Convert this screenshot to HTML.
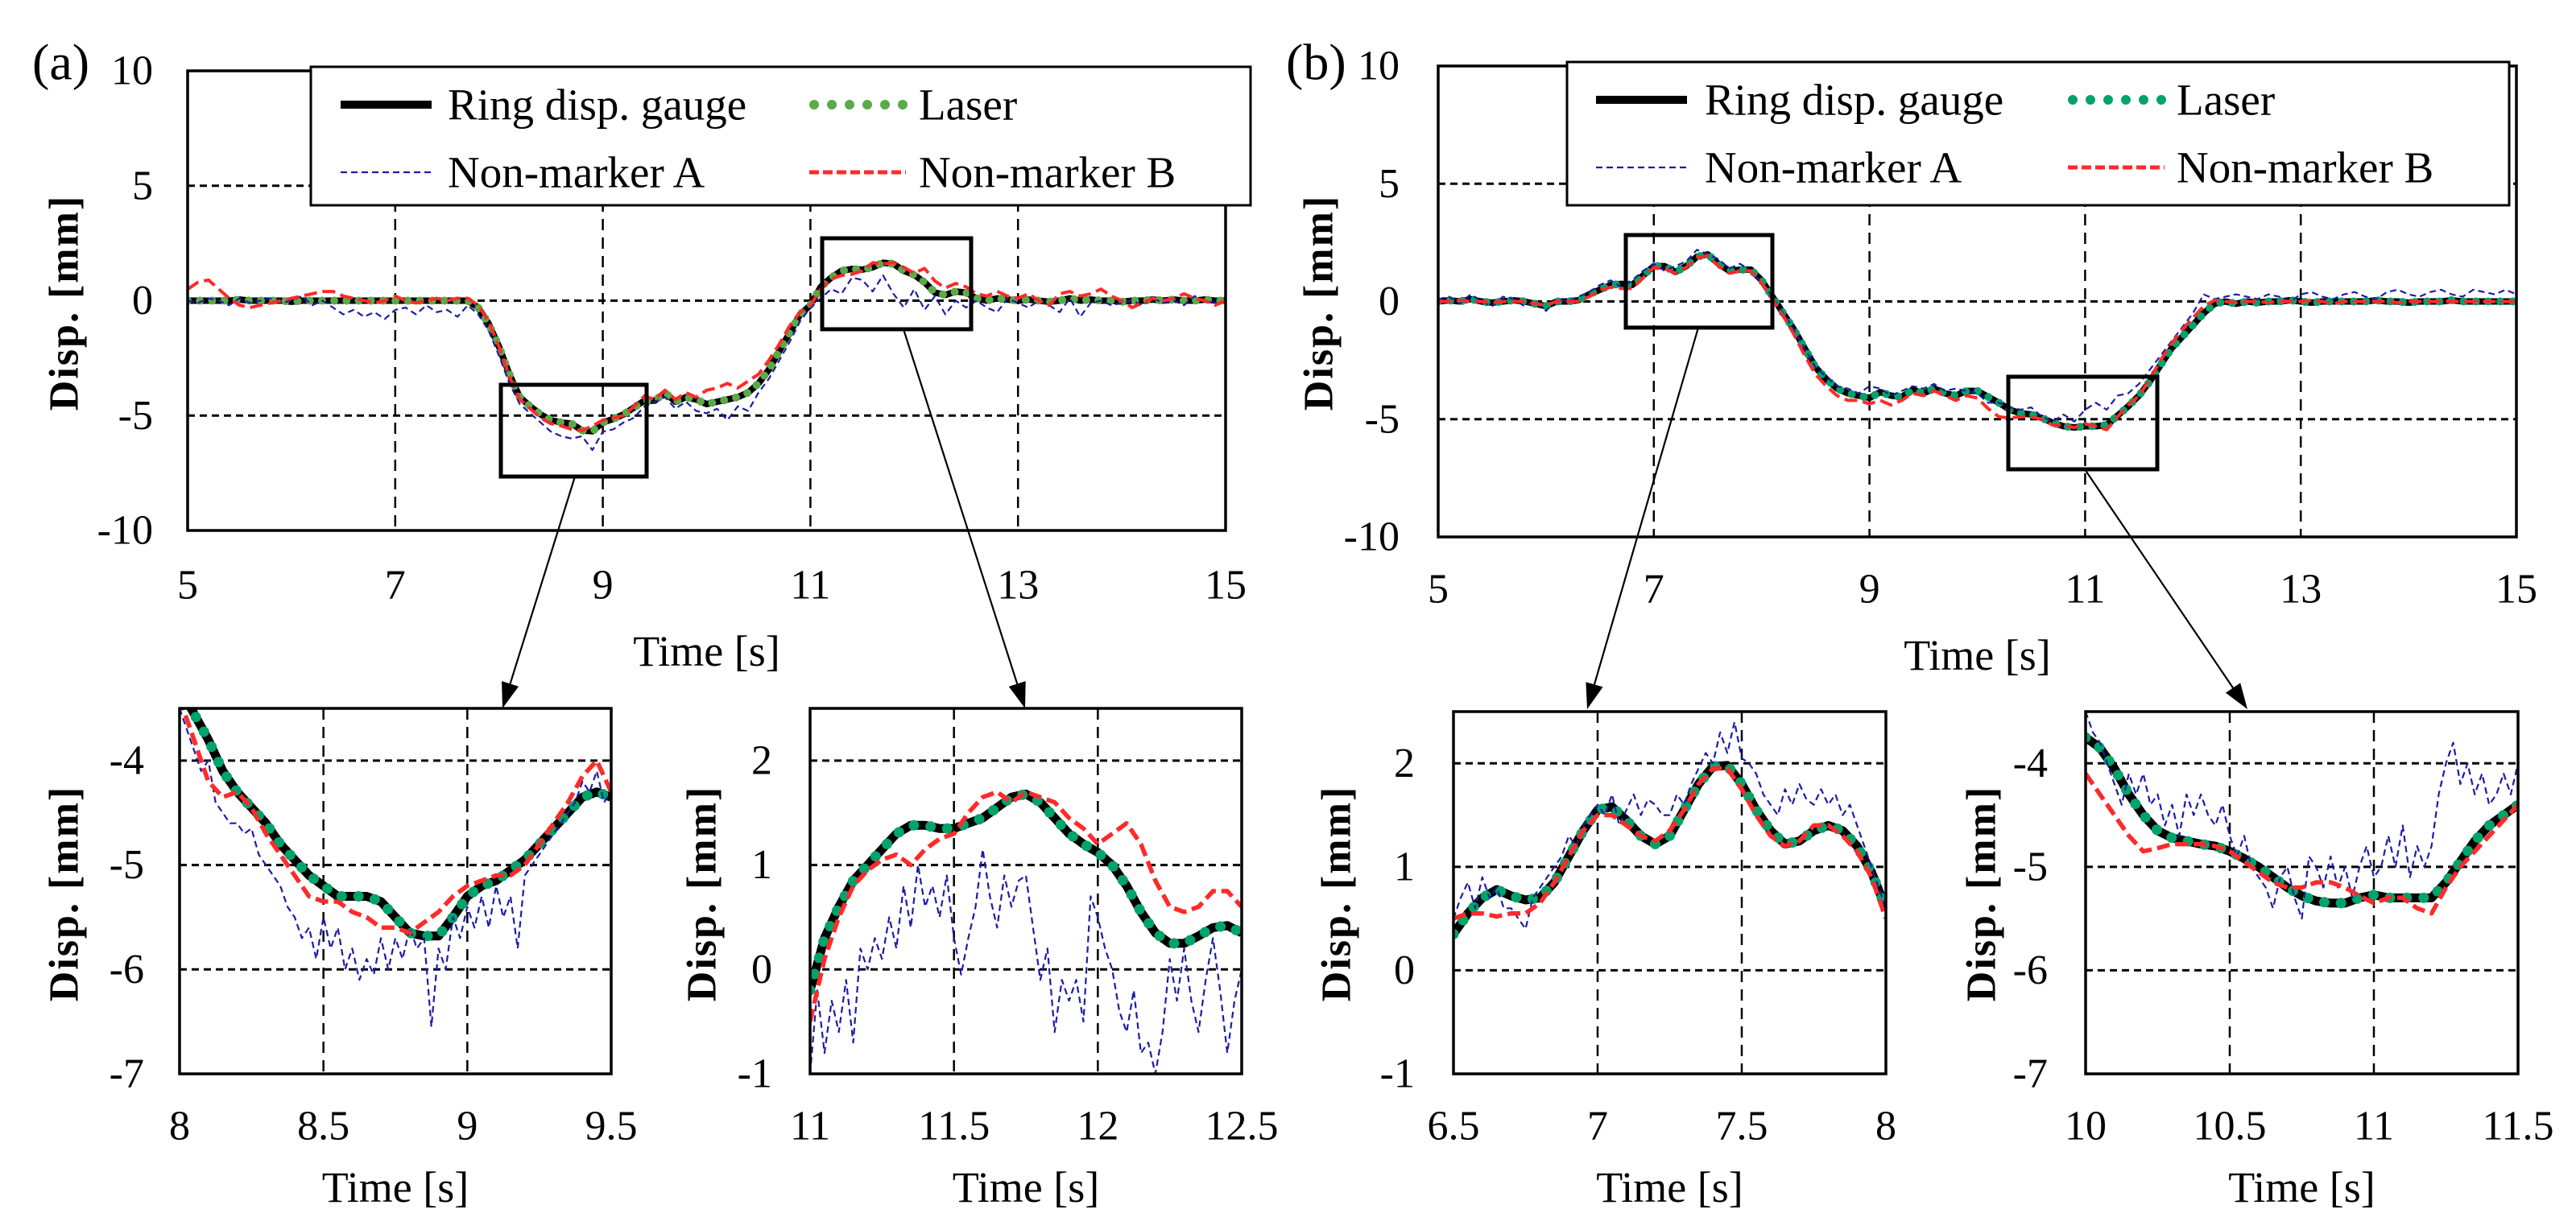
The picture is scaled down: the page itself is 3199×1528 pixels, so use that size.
<!DOCTYPE html>
<html><head><meta charset="utf-8"><style>
html,body{margin:0;padding:0;background:#fff}
svg{display:block}
svg text{font-family:"Liberation Serif","Times New Roman",serif;fill:#000}
</style></head><body>
<svg id="fig" width="3199" height="1528" viewBox="0 0 3199 1528" xmlns="http://www.w3.org/2000/svg" font-family="Liberation Serif, serif"></svg>
<script>
// ---------- DATA ----------
const aMainRing=[0,0,0,0,0,0.05,0,0,0,0,-0.05,0,0,0,0,0,0,0,0,0,0,0,0,0,0,0,0,
0,-0.3,-1.0,-2.0,-3.2,-4.2,-4.6,-4.95,-5.2,-5.3,-5.35,-5.65,-5.68,-5.3,-5.15,-4.95,-4.65,-4.35,-4.35,-4.0,-4.4,-4.2,-4.3,-4.5,-4.4,-4.3,-4.2,-4.0,-3.6,-3.0,-2.2,-1.4,-0.6,-0.2,0.6,1.0,1.3,1.38,1.35,1.45,1.65,1.6,1.3,1.12,0.8,0.35,0.25,0.4,0.35,0.1,0,0.1,0.05,0,
0.05,0,-0.05,0,0.1,0,0.05,0,0,-0.05,0,0,0.05,0,0.05,0,0,0.05,0,0];
const aMainLaser=[0,0,0,0,0,0.05,0,0,0,0,-0.05,0,0,0,0,0,0,0,0,0,0,0,0,0,0,0,0,
0,-0.3,-1.0,-2.0,-3.2,-4.2,-4.6,-4.95,-5.2,-5.3,-5.35,-5.65,-5.68,-5.3,-5.15,-4.95,-4.65,-4.35,-4.35,-4.0,-4.4,-4.2,-4.3,-4.5,-4.4,-4.3,-4.2,-4.0,-3.6,-3.0,-2.2,-1.4,-0.6,-0.2,0.6,1.0,1.3,1.38,1.35,1.45,1.65,1.6,1.3,1.12,0.8,0.35,0.25,0.4,0.35,0.1,0,0.1,0.05,0,
0.05,0,-0.05,0,0.1,0,0.05,0,0,-0.05,0,0,0.05,0,0.05,0,0,0.05,0,0];
const aMainA=[0,-0.1,0.1,0,-0.2,0.1,-0.1,0,0.1,-0.1,0,0.2,-0.2,0,-0.3,-0.6,-0.4,-0.7,-0.5,-0.8,-0.4,-0.3,-0.6,-0.2,-0.5,-0.4,-0.7,
-0.2,-0.6,-1.3,-2.4,-3.6,-4.5,-4.9,-5.3,-5.7,-5.9,-6.0,-5.9,-6.5,-5.7,-5.6,-5.3,-5.1,-4.6,-4.4,-4.2,-4.7,-4.4,-4.8,-4.9,-4.7,-5.2,-4.6,-4.8,-4.0,-3.4,-2.6,-1.8,-0.9,-0.3,
0.1,0.5,0.3,1.0,0.9,0.4,1.1,0.3,-0.3,0.5,-0.4,0.2,-0.6,0.0,-0.3,0,-0.3,-0.5,0.1,-0.1,-0.3,0,-0.2,-0.5,0.1,-0.7,-0.1,0,-0.2,-0.1,0,-0.2,0.1,-0.1,0,-0.2,0.2,0,-0.1,0];
const aMainB=[0.5,0.8,0.9,0.5,0.1,-0.2,-0.3,-0.2,-0.1,0,0.1,0.2,0.3,0.4,0.4,0.2,0.1,0,-0.1,0,0.2,0,-0.1,0,0.1,0,0.1,
0.1,-0.2,-0.9,-2.0,-3.3,-4.3,-4.7,-5.1,-5.35,-5.45,-5.6,-5.65,-5.45,-5.2,-5.1,-5.0,-4.6,-4.15,-4.3,-3.9,-4.3,-4.0,-4.2,-3.9,-3.8,-3.6,-3.8,-3.5,-3.2,-2.6,-1.9,-1.1,-0.5,-0.2,
0.5,0.95,1.1,1.15,1.3,1.65,1.6,1.65,1.45,1.2,1.4,0.85,0.55,0.75,0.6,0.3,0.2,0.4,0.2,0.1,0.3,0,-0.2,0.3,0.4,0.2,0.3,0.5,0.2,0,-0.3,-0.1,0.1,0,0.1,0.3,0.1,0,-0.2,0];
const a1Ring=[-3.3,-3.55,-3.8,-4.1,-4.3,-4.45,-4.6,-4.8,-4.95,-5.1,-5.2,-5.3,-5.3,-5.3,-5.35,-5.5,-5.65,-5.68,-5.68,-5.5,-5.3,-5.2,-5.15,-5.05,-4.95,-4.8,-4.65,-4.5,-4.35,-4.3,-4.35];
const a1Laser=[-3.3,-3.55,-3.8,-4.1,-4.3,-4.45,-4.6,-4.8,-4.95,-5.1,-5.2,-5.3,-5.3,-5.3,-5.35,-5.5,-5.65,-5.68,-5.68,-5.5,-5.3,-5.2,-5.15,-5.05,-4.95,-4.8,-4.65,-4.5,-4.35,-4.3,-4.35];
const a1B=[-3.4,-3.8,-4.2,-4.35,-4.3,-4.45,-4.7,-4.9,-5.1,-5.3,-5.35,-5.35,-5.45,-5.5,-5.6,-5.6,-5.65,-5.55,-5.45,-5.3,-5.2,-5.15,-5.1,-5.1,-5.0,-4.8,-4.6,-4.4,-4.15,-4.0,-4.3];
const a1A=[-3.5,-3.7,-3.9,-4.1,-4.0,-4.4,-4.5,-4.6,-4.6,-4.7,-4.65,-4.9,-5.0,-5.1,-5.2,-5.4,-5.5,-5.7,-5.6,-5.9,-5.5,-5.8,-5.6,-6.0,-5.8,-6.1,-5.9,-6.05,-5.7,-6.0,-5.7,-5.9,-5.6,-5.8,-5.7,-6.55,-5.8,-6.0,-5.5,-5.7,-5.4,-5.6,-5.3,-5.6,-5.2,-5.5,-5.3,-5.8,-5.1,-5.0,-4.9,-4.8,-4.7,-4.6,-4.5,-4.4,-4.2,-4.3,-4.1,-4.4,-4.3];
const a2Ring=[-0.2,0.3,0.6,0.85,1.0,1.15,1.3,1.38,1.38,1.35,1.35,1.4,1.45,1.55,1.65,1.68,1.6,1.45,1.3,1.2,1.12,1.0,0.8,0.55,0.35,0.25,0.25,0.32,0.4,0.42,0.35];
const a2Laser=[-0.2,0.3,0.6,0.85,1.0,1.15,1.3,1.38,1.38,1.35,1.35,1.4,1.45,1.55,1.65,1.68,1.6,1.45,1.3,1.2,1.12,1.0,0.8,0.55,0.35,0.25,0.25,0.32,0.4,0.42,0.35];
const a2B=[-0.5,0.1,0.5,0.8,0.95,1.05,1.1,1.0,1.15,1.25,1.3,1.5,1.65,1.7,1.6,1.7,1.65,1.6,1.45,1.35,1.2,1.3,1.4,1.2,0.85,0.6,0.55,0.6,0.75,0.75,0.6];
const a2A=[-1.0,-0.2,-0.8,-0.3,-0.6,-0.1,-0.7,0.2,0,0.3,0.1,0.5,0.2,0.8,0.4,1.0,0.6,0.8,0.5,0.9,0.3,-0.05,0.3,0.6,1.15,0.7,0.4,0.9,0.6,0.85,0.9,0.4,-0.1,0.2,-0.6,-0.1,-0.3,-0.1,-0.5,0.7,0.5,0.2,0.0,-0.4,-0.6,-0.2,-0.8,-0.7,-1.0,-0.6,0.1,-0.3,0.2,-0.3,-0.6,-0.1,0.3,-0.2,-0.8,-0.3,0];
const bMainRing=[0,0.05,0,0.1,0,-0.05,0,0.05,0,-0.1,-0.2,0,0,0.05,
0.3,0.5,0.7,0.75,0.7,1.1,1.5,1.5,1.25,1.5,1.9,2.0,1.6,1.3,1.35,1.35,0.9,0.2,-0.5,-1.2,-2.0,-2.8,-3.3,-3.7,-3.9,-4.0,-4.1,-3.85,-4.0,-4.05,-3.75,-3.9,-3.7,-3.9,-4.0,-3.8,-3.8,-4.05,-4.3,-4.6,-4.75,-4.8,-4.95,-5.15,-5.3,-5.35,-5.3,-5.3,-5.25,-4.85,-4.45,-4.0,-3.4,-2.7,-2.0,-1.5,-1.0,-0.5,-0.1,0,-0.1,
0,-0.05,0,0,0.05,0,-0.05,0,0,0,0,0,0.05,0,0,-0.05,0,0,0,0.05,0,0,0,0,0,0];
const bMainLaser=[0,0.05,0,0.1,0,-0.05,0,0.05,0,-0.1,-0.2,0,0,0.05,
0.3,0.5,0.7,0.75,0.7,1.1,1.5,1.5,1.25,1.5,1.9,2.0,1.6,1.3,1.35,1.35,0.9,0.2,-0.5,-1.2,-2.0,-2.8,-3.3,-3.7,-3.9,-4.0,-4.1,-3.85,-4.0,-4.05,-3.75,-3.9,-3.7,-3.9,-4.0,-3.8,-3.8,-4.05,-4.3,-4.6,-4.75,-4.8,-4.95,-5.15,-5.3,-5.35,-5.3,-5.3,-5.25,-4.85,-4.45,-4.0,-3.4,-2.7,-2.0,-1.5,-1.0,-0.5,-0.1,0,-0.1,
0,-0.05,0,0,0.05,0,-0.05,0,0,0,0,0,0.05,0,0,-0.05,0,0,0,0.05,0,0,0,0,0,0];
const bMainB=[0,0,0.05,0,0,-0.05,0,0,0,-0.1,-0.15,0,0,0,
0.2,0.5,0.6,0.55,0.55,1.0,1.45,1.4,1.2,1.45,1.85,1.95,1.5,1.2,1.3,1.3,0.8,0.1,-0.6,-1.4,-2.3,-3.1,-3.6,-4.0,-4.2,-4.2,-4.35,-4.2,-4.4,-4.2,-3.9,-4.0,-3.8,-4.0,-4.2,-4.0,-4.1,-4.55,-4.9,-4.95,-4.9,-4.9,-5.0,-5.25,-5.25,-5.35,-5.2,-5.3,-5.45,-4.9,-4.4,-4.0,-3.3,-2.5,-1.8,-1.2,-0.7,-0.2,0.05,0,-0.05,
0,0,-0.05,0,0,0,0.05,0,-0.1,0,0,0,0,0,-0.05,0,0,0,0,0,0,0,0,0,0,0];
const bMainA=[0.1,0.2,-0.1,0.3,0,-0.2,0.2,0.1,-0.2,0,-0.4,0.1,0,0.2,
0.4,0.7,0.9,0.6,0.9,1.3,1.6,1.3,1.5,1.7,2.2,2.0,1.8,1.4,1.6,1.3,0.8,0.2,-0.5,-1.2,-2.0,-2.8,-3.2,-3.6,-3.7,-3.9,-3.6,-3.7,-4.0,-3.8,-3.6,-3.7,-3.5,-3.8,-3.7,-3.8,-3.9,-4.3,-4.3,-4.5,-4.6,-4.5,-4.9,-5.1,-4.8,-5.1,-4.6,-4.3,-4.6,-4.0,-3.9,-3.5,-2.9,-2.3,-1.7,-1.1,-0.5,0.3,0.1,0.2,0.3,
0.2,0.1,0.3,0.2,0,0.3,0.4,0.2,0.1,0.3,0.4,0.2,0.1,0.4,0.5,0.3,0.2,0.4,0.5,0.3,0.2,0.5,0.4,0.3,0.5,0.3];
const b1Ring=[0.35,0.55,0.7,0.78,0.72,0.68,0.7,0.85,1.1,1.35,1.55,1.58,1.45,1.3,1.22,1.3,1.55,1.8,1.97,1.98,1.8,1.55,1.35,1.22,1.25,1.35,1.4,1.35,1.2,0.95,0.6];
const b1Laser=[0.35,0.55,0.7,0.78,0.72,0.68,0.7,0.85,1.1,1.35,1.55,1.58,1.45,1.3,1.22,1.3,1.55,1.8,1.97,1.98,1.8,1.55,1.35,1.22,1.25,1.35,1.4,1.35,1.2,0.95,0.6];
const b1B=[0.5,0.55,0.55,0.52,0.55,0.55,0.65,0.85,1.1,1.35,1.5,1.5,1.4,1.3,1.25,1.35,1.55,1.8,1.95,1.95,1.75,1.5,1.3,1.2,1.25,1.4,1.4,1.3,1.15,0.9,0.5];
const b1A=[0.5,0.7,0.85,0.6,0.9,0.7,0.8,0.6,0.6,0.5,0.4,0.7,0.8,0.9,1.0,1.1,1.3,1.2,1.4,1.5,1.6,1.5,1.7,1.4,1.55,1.7,1.5,1.65,1.6,1.5,1.5,1.7,1.6,1.8,1.95,2.1,2.0,2.3,2.1,2.4,2.05,2.0,1.9,1.7,1.6,1.5,1.75,1.6,1.8,1.65,1.6,1.75,1.6,1.7,1.5,1.6,1.4,1.2,1.0,0.8,0.6];
const b2Ring=[-3.75,-3.85,-4.05,-4.3,-4.5,-4.65,-4.72,-4.75,-4.78,-4.8,-4.85,-4.92,-5.0,-5.1,-5.2,-5.28,-5.33,-5.35,-5.35,-5.3,-5.27,-5.3,-5.3,-5.3,-5.3,-5.15,-4.95,-4.75,-4.6,-4.5,-4.4];
const b2Laser=[-3.75,-3.85,-4.05,-4.3,-4.5,-4.65,-4.72,-4.75,-4.78,-4.8,-4.85,-4.92,-5.0,-5.1,-5.2,-5.28,-5.33,-5.35,-5.35,-5.3,-5.27,-5.3,-5.3,-5.3,-5.3,-5.15,-4.95,-4.75,-4.6,-4.5,-4.4];
const b2B=[-4.1,-4.3,-4.5,-4.7,-4.85,-4.82,-4.78,-4.78,-4.78,-4.8,-4.85,-4.95,-5.05,-5.15,-5.2,-5.2,-5.15,-5.15,-5.2,-5.28,-5.35,-5.3,-5.3,-5.4,-5.45,-5.2,-5.0,-4.85,-4.7,-4.55,-4.4];
const b2A=[-3.5,-3.7,-3.8,-4.0,-4.2,-4.4,-4.1,-4.3,-4.1,-4.4,-4.3,-4.6,-4.4,-4.7,-4.3,-4.5,-4.3,-4.5,-4.6,-4.4,-4.7,-4.9,-4.7,-5.0,-5.1,-5.2,-5.4,-5.1,-5.0,-5.3,-5.5,-4.9,-5.0,-5.2,-4.9,-5.2,-5.0,-5.3,-5.0,-4.8,-5.1,-5.0,-4.7,-5.0,-4.6,-5.1,-4.8,-5.0,-4.8,-4.3,-4.0,-3.8,-4.2,-4.0,-4.3,-4.1,-4.4,-4.3,-4.1,-4.3,-4.0];
const mainXTicks=[5,7,9,11,13,15];
const mainYTicks=[10,5,0,-5,-10];
const a1XTicks=["8","8.5","9","9.5"], a2XTicks=["11","11.5","12","12.5"];
const b1XTicks=["6.5","7","7.5","8"], b2XTicks=["10","10.5","11","11.5"];
const negYTicks=[-4,-5,-6,-7], posYTicks=[2,1,0,-1];

// ---------- DRAW ----------
const NS="http://www.w3.org/2000/svg";
const svg=document.getElementById('fig');
function el(tag,attrs,parent){const e=document.createElementNS(NS,tag);for(const k in attrs)e.setAttribute(k,attrs[k]);(parent||svg).appendChild(e);return e;}
function txt(s,x,y,size,anchor,parent,extra){const t=el('text',Object.assign({x:x,y:y,'font-size':size,'font-family':'Liberation Serif, serif','text-anchor':anchor||'middle','dominant-baseline':'central'},extra||{}),parent);t.textContent=s;return t;}
let clipN=0;
function panel(p){
  const g=el('g',{});
  
  
  const sx=v=>p.L+(v-p.x0)/(p.x1-p.x0)*(p.R-p.L);
  const sy=v=>p.B-(v-p.y0)/(p.y1-p.y0)*(p.B-p.T);
  p.vgrid.forEach(v=>{const l=el('line',{x1:sx(v),x2:sx(v),y1:p.T,y2:p.B,stroke:'#000','stroke-width':2.5,'stroke-dasharray':'14 9'},g);
    });
  p.hgrid.forEach(v=>{const l=el('line',{x1:p.L,x2:p.R,y1:sy(v),y2:sy(v),stroke:'#000','stroke-width':3,'stroke-dasharray':'9 6'},g);
    });
  const cid='c'+(clipN++);
  const cp=el('clipPath',{id:cid},g);el('rect',{x:p.L,y:p.T,width:p.R-p.L,height:p.B-p.T},cp);
  const sg=el('g',{'clip-path':'url(#'+cid+')'},g);
  function series(arr,name,st){
    const n=arr.length;const step=(p.x1-p.x0)/(n-1);
    const d=arr.map((v,i)=>(i?'L':'M')+sx(p.x0+i*step).toFixed(1)+' '+sy(v).toFixed(1)).join(' ');
    const path=el('path',Object.assign({d:d,fill:'none','stroke-linejoin':'round'},st),sg);
    
    
  }
  series(p.ring,'ring-gauge-line',{stroke:'#000','stroke-width':p.lw});
  series(p.laser,'laser-line',{stroke:p.green,'stroke-width':p.lw+2,'stroke-dasharray':'0 '+(p.lw*1.9),'stroke-linecap':'round'});
  series(p.A,'non-marker-a-line',{stroke:'#1c1ca8','stroke-width':2.2,'stroke-dasharray':'8 5'});
  series(p.Bv,'non-marker-b-line',{stroke:'#ff2a2a','stroke-width':p.lw*0.5,'stroke-dasharray':'16 7'});
  const fr=el('rect',{x:p.L,y:p.T,width:p.R-p.L,height:p.B-p.T,fill:'none',stroke:'#000','stroke-width':3.5},g);
  
  p.xt.forEach(v=>{const t=txt(String(v),sx(+v),p.xtY,52,'middle',g);});
  p.yt.forEach(v=>{const t=txt(String(v),p.ytX,sy(+v),52,'end',g);});
  const xtt=txt('Time [s]',(p.L+p.R)/2,p.timeY,54,'middle',g);
  
  const yt=txt('Disp. [mm]',0,0,52,'middle',g,{'font-weight':'bold',transform:'translate('+p.ylX+','+p.ylY+') rotate(-90)','letter-spacing':'2'});
  
}
panel({name:'panel-a-main',L:233,R:1522,T:88,B:659,x0:5,x1:15,y0:-10,y1:10,vgrid:[7,9,11,13],hgrid:[5,-5,0],
 ring:aMainRing,laser:aMainLaser,A:aMainA,Bv:aMainB,lw:8,green:'#5aaa4a',xt:mainXTicks,yt:mainYTicks,xtY:727,ytX:190,timeY:809,ylX:80,ylY:376});
panel({name:'panel-b-main',L:1786,R:3125,T:82,B:667,x0:5,x1:15,y0:-10,y1:10,vgrid:[7,9,11,13],hgrid:[5,-5,0],
 ring:bMainRing,laser:bMainLaser,A:bMainA,Bv:bMainB,lw:8,green:'#00a46a',xt:mainXTicks,yt:mainYTicks,xtY:732,ytX:1738,timeY:814,ylX:1638,ylY:376});
panel({name:'panel-a-zoom-1',L:223,R:759,T:880,B:1334,x0:8,x1:9.5,y0:-7,y1:-3.5,vgrid:[8.5,9],hgrid:[-4,-5,-6],
 ring:a1Ring,laser:a1Laser,A:a1A,Bv:a1B,lw:11,green:'#00a46a',xt:a1XTicks,yt:negYTicks,xtY:1399,ytX:179,timeY:1475,ylX:80,ylY:1110});
panel({name:'panel-a-zoom-2',L:1006,R:1542,T:880,B:1334,x0:11,x1:12.5,y0:-1,y1:2.5,vgrid:[11.5,12],hgrid:[2,1,0],
 ring:a2Ring,laser:a2Laser,A:a2A,Bv:a2B,lw:11,green:'#00a46a',xt:a2XTicks,yt:posYTicks,xtY:1399,ytX:959,timeY:1475,ylX:872,ylY:1110});
panel({name:'panel-b-zoom-1',L:1805,R:2342,T:884,B:1334,x0:6.5,x1:8,y0:-1,y1:2.5,vgrid:[7,7.5],hgrid:[2,1,0],
 ring:b1Ring,laser:b1Laser,A:b1A,Bv:b1B,lw:11,green:'#00a46a',xt:b1XTicks,yt:posYTicks,xtY:1399,ytX:1757,timeY:1475,ylX:1660,ylY:1110});
panel({name:'panel-b-zoom-2',L:2590,R:3127,T:884,B:1334,x0:10,x1:11.5,y0:-7,y1:-3.5,vgrid:[10.5,11],hgrid:[-4,-5,-6],
 ring:b2Ring,laser:b2Laser,A:b2A,Bv:b2B,lw:11,green:'#00a46a',xt:b2XTicks,yt:negYTicks,xtY:1399,ytX:2543,timeY:1475,ylX:2461,ylY:1110});

function zbox(x1,y1,x2,y2,name){const r=el('rect',{x:x1,y:y1,width:x2-x1,height:y2-y1,fill:'none',stroke:'#000','stroke-width':5});
 }
function arrow(x1,y1,x2,y2,name){const g=el('g',{});
 const a=Math.atan2(y2-y1,x2-x1),L=32,W=11;
 const bx=x2-L*Math.cos(a),by=y2-L*Math.sin(a);
 el('line',{x1:x1,y1:y1,x2:bx,y2:by,stroke:'#000','stroke-width':2.2},g);
 el('polygon',{points:[x2,y2,bx+W*Math.sin(a),by-W*Math.cos(a),bx-W*Math.sin(a),by+W*Math.cos(a)].join(','),fill:'#000'},g);}
zbox(622,478,803,592,'zoom-box-a1');zbox(1021,296,1206,409,'zoom-box-a2');
zbox(2019,292,2201,407,'zoom-box-b1');zbox(2494,468,2679,583,'zoom-box-b2');
arrow(714,592,624,880,'arrow-a1');arrow(1122,409,1273,880,'arrow-a2');
arrow(2109,407,1971,881,'arrow-b1');arrow(2589,583,2791,881,'arrow-b2');

function legend(x1,y1,x2,y2,s1,t1,s2,t2,green,name){
 const g=el('g',{});
 el('rect',{x:x1,y:y1,width:x2-x1,height:y2-y1,fill:'#fff',stroke:'#000','stroke-width':3},g);
 const r1=y1+47,r2=y1+131;
 el('line',{x1:s1,x2:s1+113,y1:r1,y2:r1,stroke:'#000','stroke-width':10},g);
 txt('Ring disp. gauge',t1,r1,55,'start',g);
 el('line',{x1:s2+6,x2:s2+118,y1:r1,y2:r1,stroke:green,'stroke-width':12,'stroke-dasharray':'0 22','stroke-linecap':'round'},g);
 txt('Laser',t2,r1,55,'start',g);
 el('line',{x1:s1,x2:s1+113,y1:r2,y2:r2,stroke:'#1c1ca8','stroke-width':2.2,'stroke-dasharray':'8 5'},g);
 txt('Non-marker A',t1,r2,55,'start',g);
 el('line',{x1:s2,x2:s2+120,y1:r2,y2:r2,stroke:'#ff2a2a','stroke-width':5,'stroke-dasharray':'12 5'},g);
 txt('Non-marker B',t2,r2,55,'start',g);
}
legend(386,83,1553,255,423,556,1005,1141,'#5aaa4a','legend-a');
legend(1946,77,3116,255,1982,2117,2568,2703,'#00a46a','legend-b');

const la=txt('(a)',40,77,64,'start');
const lb=txt('(b)',1597,77,64,'start');
</script>
</body></html>
